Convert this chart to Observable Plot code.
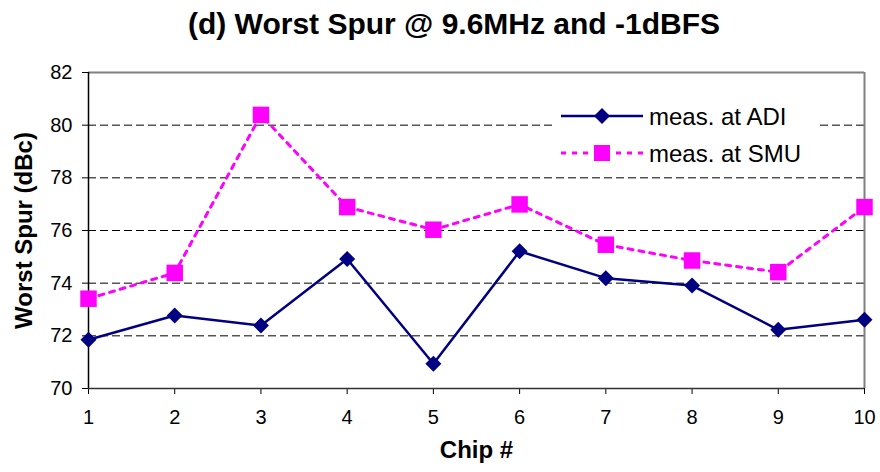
<!DOCTYPE html>
<html><head><meta charset="utf-8">
<script src="https://cdn.jsdelivr.net/npm/d3@7"></script>
<script src="https://cdn.jsdelivr.net/npm/@observablehq/plot@0.6"></script>
<style>
body{margin:0;background:#fff;font-family:Arial,"Liberation Sans",sans-serif}
#wrap{position:relative;width:880px;height:472px;overflow:hidden;background:#fff}
#title{position:absolute;left:28px;top:0;width:852px;height:50px;text-align:center;font-weight:bold;font-size:30px;line-height:48px;color:#000}
#chart{position:absolute;left:0;top:50px}
#legend{position:absolute;left:554px;top:96px;width:262px;height:74px;background:#fff}
</style></head>
<body>
<div id="wrap">
  <div id="title"></div>
  <div id="chart"></div>
  <div id="legend"></div>
</div>
<script>
const titleText = "(d) Worst Spur @ 9.6MHz and -1dBFS";
const xLabel = "Chip #";
const yLabel = "Worst Spur (dBc)";
const chips = [1, 2, 3, 4, 5, 6, 7, 8, 9, 10];
const adi = [71.85, 72.77, 72.39, 74.92, 70.94, 75.21, 74.19, 73.91, 72.23, 72.61];
const smu = [73.41, 74.39, 80.39, 76.89, 76.03, 76.99, 75.46, 74.86, 74.42, 76.89];
const seriesNames = ["meas. at ADI", "meas. at SMU"];
const yTicks = [70, 72, 74, 76, 78, 80, 82];
const gridTicks = [72, 74, 76, 78, 80];

const NAVY = "#000080", MAGENTA = "#FF00FF";
const FONT = "Arial, 'Liberation Sans', sans-serif";

document.getElementById("title").textContent = titleText;

const adiData = chips.map((c, i) => ({chip: c, value: adi[i]}));
const smuData = chips.map((c, i) => ({chip: c, value: smu[i]}));

const chart = Plot.plot({
  width: 880, height: 422,
  marginLeft: 88, marginRight: 16, marginTop: 22, marginBottom: 84,
  style: {fontFamily: FONT, color: "#000", background: "#fff"},
  x: {domain: [1, 10]},
  y: {domain: [70, 82]},
  marks: [
    Plot.ruleY(gridTicks, {stroke: "#000", strokeWidth: 1, strokeDasharray: "8,4"}),
    Plot.ruleY([82], {stroke: "#808080", strokeWidth: 2}),
    Plot.ruleX([10], {stroke: "#808080", strokeWidth: 2}),
    Plot.axisX({ticks: chips, tickFormat: d => d, tickSize: 6, tickPadding: 15, fontSize: 20, label: null}),
    Plot.axisY({ticks: yTicks, tickFormat: d => d, tickSize: 6, tickPadding: 10, fontSize: 20, label: null}),
    Plot.ruleX([1], {stroke: "#000", strokeWidth: 1.5}),
    Plot.ruleY([70], {stroke: "#333", strokeWidth: 1.5}),
    Plot.text([xLabel], {frameAnchor: "bottom", dy: 69, text: d => d, fontSize: 24, fontWeight: "bold", fill: "#000"}),
    Plot.text([yLabel], {frameAnchor: "left", textAnchor: "middle", dx: -64, rotate: -90, text: d => d, fontSize: 24, fontWeight: "bold", fill: "#000"}),
    Plot.line(smuData, {x: "chip", y: "value", stroke: MAGENTA, strokeWidth: 3, strokeDasharray: "5,6"}),
    Plot.line(adiData, {x: "chip", y: "value", stroke: NAVY, strokeWidth: 2.5}),
    Plot.dot(adiData, {x: "chip", y: "value", symbol: "diamond2", r: 7.2, fill: NAVY, stroke: "none"}),
    Plot.dot(smuData, {x: "chip", y: "value", symbol: "square", r: 9.3, fill: MAGENTA, stroke: "none"})
  ]
});
document.getElementById("chart").appendChild(chart);

// legend
const leg = d3.select("#legend").append("svg").attr("width", 262).attr("height", 74);
const rows = [
  {name: seriesNames[0], color: NAVY, dash: null, sw: 2.5, sym: "diamond"},
  {name: seriesNames[1], color: MAGENTA, dash: "5,6", sw: 3, sym: "square"}
];
rows.forEach((r, i) => {
  const y = 20 + i * 37;
  leg.append("line").attr("x1", 7).attr("x2", 89).attr("y1", y).attr("y2", y)
    .attr("stroke", r.color).attr("stroke-width", r.sw).attr("stroke-dasharray", r.dash);
  if (r.sym === "diamond") {
    leg.append("path").attr("d", `M48,${y-8}L56,${y}L48,${y+8}L40,${y}Z`).attr("fill", r.color);
  } else {
    leg.append("rect").attr("x", 40).attr("y", y - 8).attr("width", 16).attr("height", 16).attr("fill", r.color);
  }
  leg.append("text").attr("x", 95).attr("y", y).attr("dy", "0.36em")
    .attr("font-family", FONT).attr("font-size", 24).attr("fill", "#000").text(r.name);
});
</script>
</body></html>
